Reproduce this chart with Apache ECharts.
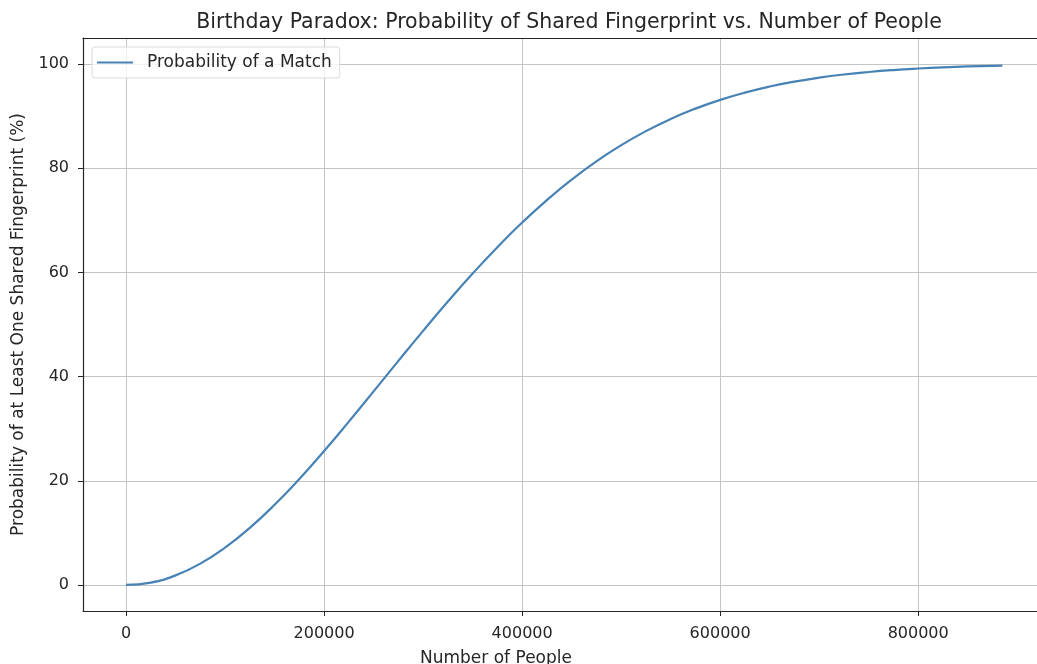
<!DOCTYPE html>
<html>
<head>
<meta charset="utf-8">
<script src="https://cdn.jsdelivr.net/npm/echarts@6/dist/echarts.min.js"></script>
<style>html,body{margin:0;padding:0;background:#fff;overflow:hidden}#c{width:1037px;height:664px}</style>
</head>
<body>
<div id="c"></div>
<script>
const people = [0,25000,50000,75000,100000,125000,150000,175000,200000,225000,250000,275000,300000,325000,350000,375000,400000,425000,450000,475000,500000,525000,550000,575000,600000,625000,650000,675000,700000,725000,750000,775000,800000,825000,850000,875000,885000];
const probability = [0,0.46,1.84,4.1,7.16,10.97,15.4,20.36,25.72,31.36,37.16,43.01,48.78,54.4,59.78,64.85,69.57,73.89,77.81,81.32,84.41,87.12,89.45,91.44,93.12,94.52,95.68,96.62,97.38,97.99,98.47,98.85,99.14,99.37,99.54,99.66,99.7];
const xTicks = [0,200000,400000,600000,800000];
const yTicks = [0,20,40,60,80,100];

const font = 'DejaVu Sans';
const txt = '#262626';
const chart = echarts.init(document.getElementById('c'), null, {renderer:'canvas', width:1037, height:664});
chart.setOption({
  animation:false,
  title:{text:'Birthday Paradox: Probability of Shared Fingerprint vs. Number of People',
    left:564, top:7, textAlign:'center',
    textStyle:{fontFamily:font,fontSize:20.5,fontWeight:'normal',color:txt}},
  legend:{left:92,top:47,orient:'vertical',itemWidth:36,itemHeight:2,itemGap:0,
    padding:[7,8,7,5],backgroundColor:'rgba(255,255,255,0.8)',borderColor:'#dcdcdc',borderWidth:1,borderRadius:3,
    textStyle:{fontFamily:font,fontSize:17,color:txt,padding:[0,0,0,9]},
    data:[{name:'Probability of a Match',icon:'rect'}]},
  grid:{left:83,top:38,width:954,height:573,containLabel:false,outerBoundsMode:'none'},
  xAxis:[{type:'value',min:-43500,max:920000,
    name:'Number of People',nameLocation:'middle',nameGap:39,
    nameTextStyle:{fontFamily:font,fontSize:17,color:txt,padding:[0,128,0,0]},
    axisLine:{show:true,onZero:false,lineStyle:{color:'#262626',width:1.2}},
    axisTick:{show:true,length:5,customValues:xTicks,lineStyle:{color:'#262626'}},
    axisLabel:{customValues:xTicks,margin:15,fontFamily:font,fontSize:16,color:txt,formatter:v=>String(v)},
    splitLine:{show:true,lineStyle:{color:'#c4c4c4',width:1}}},
   {type:'value',position:'top',min:-43500,max:920000,
    axisLine:{show:true,onZero:false,lineStyle:{color:'#262626',width:1.2}},
    axisTick:{show:false},axisLabel:{show:false},splitLine:{show:false}}],
  yAxis:{type:'value',min:-5,max:105,
    name:'Probability of at Least One Shared Fingerprint (%)',nameLocation:'middle',nameGap:52,
    nameTextStyle:{fontFamily:font,fontSize:17,color:txt},
    axisLine:{show:true,onZero:false,lineStyle:{color:'#262626',width:1.2}},
    axisTick:{show:true,length:5,customValues:yTicks,lineStyle:{color:'#262626'}},
    axisLabel:{customValues:yTicks,margin:14,fontFamily:font,fontSize:16,color:txt},
    splitLine:{show:true,lineStyle:{color:'#c4c4c4',width:1}}},
  series:[{name:'Probability of a Match',type:'line',smooth:true,symbol:'none',xAxisIndex:0,
    data:people.map((p,i)=>[p,probability[i]]),
    lineStyle:{color:'#4682b4',width:2.2},itemStyle:{color:'#4682b4'}}]
});
</script>
</body>
</html>
